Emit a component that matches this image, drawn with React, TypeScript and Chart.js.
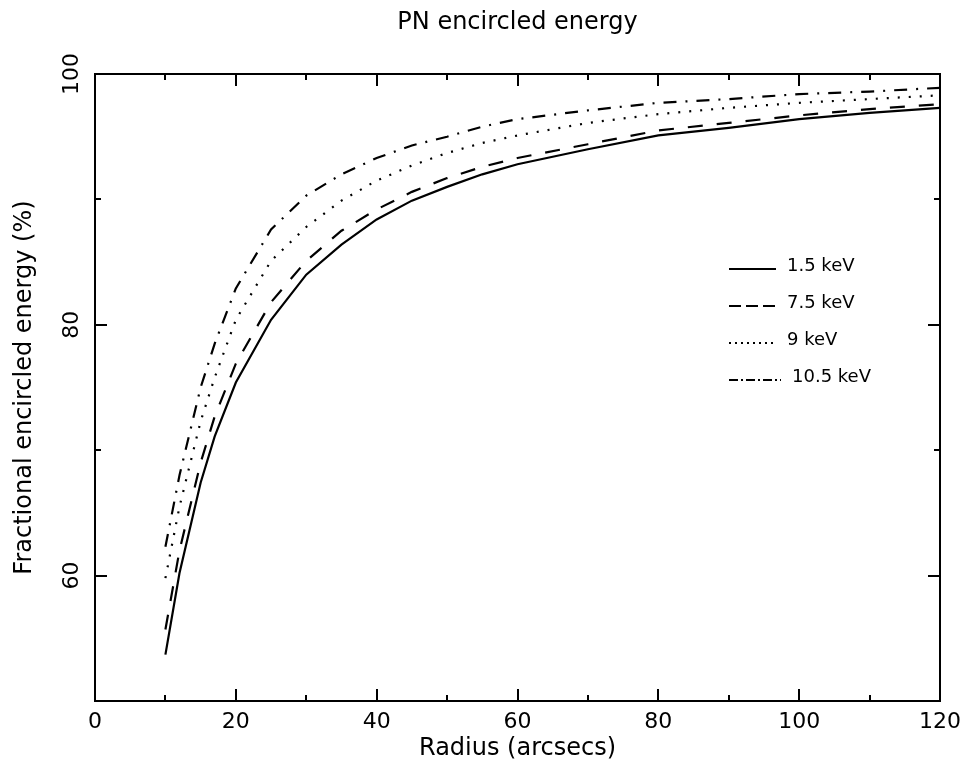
import React, { useEffect, useRef } from "react";
import { Chart, registerables } from "chart.js";

Chart.register(...registerables);

const titleText = "PN encircled energy";
const xTitle = "Radius (arcsecs)";
const yTitle = "Fractional encircled energy (%)";

const radii = [10, 12, 15, 17, 20, 25, 30, 35, 40, 45, 50, 55, 60, 70, 80, 90, 100, 110, 120];
const ee15 = [53.7, 60.2, 67.4, 71.1, 75.4, 80.4, 84.0, 86.4, 88.4, 89.9, 91.0, 92.0, 92.8, 94.0, 95.1, 95.7, 96.4, 96.9, 97.3];
const ee75 = [55.7, 62.0, 69.0, 72.7, 76.9, 81.8, 85.1, 87.5, 89.2, 90.6, 91.7, 92.6, 93.3, 94.4, 95.5, 96.1, 96.7, 97.2, 97.6];
const ee90 = [59.8, 65.5, 72.3, 75.8, 80.4, 85.1, 87.8, 89.9, 91.5, 92.7, 93.7, 94.5, 95.1, 96.1, 96.8, 97.3, 97.7, 98.0, 98.3];
const ee105 = [62.3, 68.0, 75.0, 78.5, 82.9, 87.6, 90.3, 92.0, 93.3, 94.3, 95.0, 95.8, 96.4, 97.1, 97.7, 98.0, 98.4, 98.6, 98.9];

const seriesLabels = ["1.5 keV", "7.5 keV", "9 keV", "10.5 keV"];
const xTicks = [0, 20, 40, 60, 80, 100, 120];
const yTicks = [60, 80, 100];

const FONT = "'DejaVu Sans', sans-serif";

const framePlugin = {
  id: "frameTicks",
  afterDatasetsDraw(chart: any) {
    const { ctx, chartArea } = chart;
    const xs = chart.scales.x;
    const ys = chart.scales.y;
    const { left, right, top, bottom } = chartArea;
    ctx.save();
    ctx.strokeStyle = "#000";
    ctx.lineWidth = 2;
    ctx.setLineDash([]);
    ctx.strokeRect(left, top, right - left, bottom - top);
    ctx.beginPath();
    for (let v = xs.min; v <= xs.max + 1e-6; v += 10) {
      const px = Math.round(xs.getPixelForValue(v));
      const len = v % 20 === 0 ? 12 : 6;
      ctx.moveTo(px, bottom);
      ctx.lineTo(px, bottom - len);
      ctx.moveTo(px, top);
      ctx.lineTo(px, top + len);
    }
    for (let v = ys.min; v <= ys.max + 1e-6; v += 10) {
      const py = Math.round(ys.getPixelForValue(v));
      const len = v % 20 === 0 ? 12 : 6;
      ctx.moveTo(left, py);
      ctx.lineTo(left + len, py);
      ctx.moveTo(right, py);
      ctx.lineTo(right - len, py);
    }
    ctx.stroke();

    // legend
    const legendDash = [[], [12, 5], [2, 4], [9, 3, 2, 3]];
    chart.data.datasets.forEach((ds: any, i: number) => {
      const base = 266 + 37 * i;
      const x0 = 729;
      const x1 = i === 3 ? 781 : 776;
      ctx.beginPath();
      ctx.setLineDash(legendDash[i]);
      ctx.lineWidth = 2;
      ctx.moveTo(x0, base + 3);
      ctx.lineTo(x1, base + 3);
      ctx.stroke();
      ctx.setLineDash([]);
      ctx.fillStyle = "#000";
      ctx.font = `18px ${FONT}`;
      ctx.textBaseline = "middle";
      ctx.textAlign = "left";
      ctx.fillText(ds.label, x1 + 11, base);
    });
    ctx.restore();
  },
};

export default function App() {
  const ref = useRef<HTMLCanvasElement>(null);
  useEffect(() => {
    document.body.style.margin = "0";
    const mk = (vals: number[]) => radii.map((r, i) => ({ x: r, y: vals[i] }));
    const common = { borderColor: "#000", borderWidth: 2.2, pointRadius: 0, fill: false, tension: 0 };
    const chart = new Chart(ref.current!, {
      type: "line",
      data: {
        datasets: [
          { ...common, label: seriesLabels[0], data: mk(ee15), borderDash: [] },
          { ...common, label: seriesLabels[1], data: mk(ee75), borderDash: [15, 14] },
          { ...common, label: seriesLabels[2], data: mk(ee90), borderDash: [2, 9] },
          { ...common, label: seriesLabels[3], data: mk(ee105), borderDash: [13, 9, 2, 9] },
        ],
      },
      options: {
        animation: false,
        responsive: false,
        layout: { padding: { left: 0, right: 26, top: 0, bottom: 0 } },
        plugins: {
          legend: { display: false },
          tooltip: { enabled: false },
          title: {
            display: true,
            text: titleText,
            fullSize: false,
            color: "#000",
            font: { family: FONT, size: 24, weight: "normal" },
            padding: { top: 8, bottom: 37.2 },
          },
        },
        scales: {
          x: {
            type: "linear",
            min: 0,
            max: 120,
            grid: { display: false, drawTicks: false },
            border: { display: false },
            afterBuildTicks: (s: any) => { s.ticks = xTicks.map((v) => ({ value: v })); },
            afterFit: (s: any) => { s.height = 67; s.paddingLeft = 0; s.paddingRight = 0; },
            ticks: { color: "#000", font: { family: FONT, size: 22 }, padding: 8, maxRotation: 0, minRotation: 0 },
            title: { display: true, text: xTitle, color: "#000", font: { family: FONT, size: 24 }, padding: { top: 0, bottom: 5 } },
          },
          y: {
            type: "linear",
            min: 50,
            max: 100,
            grid: { display: false, drawTicks: false },
            border: { display: false },
            afterBuildTicks: (s: any) => { s.ticks = yTicks.map((v) => ({ value: v })); },
            afterFit: (s: any) => { s.width = 95; s.paddingTop = 0; s.paddingBottom = 0; },
            ticks: { color: "#000", font: { family: FONT, size: 22 }, padding: 2, minRotation: 90, maxRotation: 90, crossAlign: "center" },
            title: { display: true, text: yTitle, color: "#000", font: { family: FONT, size: 24 }, padding: { top: 10, bottom: 0 } },
          },
        },
      },
      plugins: [framePlugin],
    } as any);
    return () => chart.destroy();
  }, []);
  return (
    <div style={{ position: "absolute", left: 0, top: 0, width: 966, height: 768, background: "#fff" }}>
      <canvas ref={ref} width={966} height={768} />
    </div>
  );
}
